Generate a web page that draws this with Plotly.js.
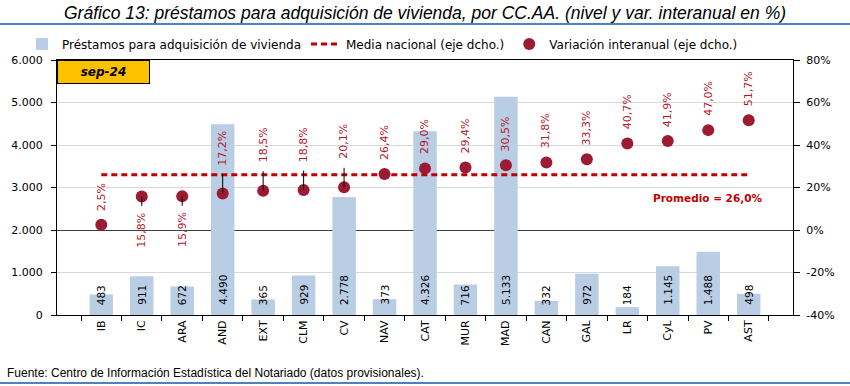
<!DOCTYPE html>
<html>
<head>
<meta charset="utf-8">
<script src="https://cdn.plot.ly/plotly-3.0.1.min.js"></script>
<style>
  html, body { margin: 0; padding: 0; background: #fff; }
  #chart { width: 850px; height: 386px; }
</style>
</head>
<body>
<div id="chart"></div>
<script>
// ---- data ----
const categories = ["IB","IC","ARA","AND","EXT","CLM","CV","NAV","CAT","MUR","MAD","CAN","GAL","LR","CyL","PV","AST"];
const prestamos = [483, 911, 672, 4490, 365, 929, 2778, 373, 4326, 716, 5133, 332, 972, 184, 1145, 1488, 498];
const variacion = [2.5, 15.8, 15.9, 17.2, 18.5, 18.8, 20.1, 26.4, 29.0, 29.4, 30.5, 31.8, 33.3, 40.7, 41.9, 47.0, 51.7];
const mediaNacional = 26.0;
const periodo = "sep-24";
const y2TickValues = [-40, -20, 0, 20, 40, 60, 80];
const y2TickLabels = ["-40%", "-20%", "0%", "20%", "40%", "60%", "80%"];

// ---- label placement (style, not data)
const labelMode = ["up","downLead","downLead","upLead","upLead","upLead","upLead","up","up","up","up","up","up","up","up","up","up"];
const labelShift = {up: 12, upLead: 26, downLead: -14};
const leadLen = {upLead: -21, downLead: 11};

const fmtPct = v => v.toFixed(1).replace('.', ',') + '%';
const fmtNum = v => v.toString().replace(/\B(?=(\d{3})+(?!\d))/g, '.');

const FONT = "DejaVu Sans, Verdana, sans-serif";
const RED_TXT = "#B5192C";
const DOT = "#9C1B32";

const traces = [
  {
    type: 'bar', name: 'Préstamos para adquisición de vivienda',
    x: categories, y: prestamos, yaxis: 'y',
    marker: {color: '#B9CDE5'}
  },
  {
    type: 'scatter', mode: 'lines', name: 'Media nacional (eje dcho.)',
    x: categories, y: categories.map(() => mediaNacional), yaxis: 'y2',
    line: {color: '#C00000', width: 3, dash: '6px,4px'}
  },
  {
    type: 'scatter', mode: 'markers', name: 'Variación interanual (eje dcho.)',
    x: categories, y: variacion, yaxis: 'y2',
    marker: {color: DOT, size: 12}
  }
];

const annotations = [];
// bar value labels
categories.forEach((c, i) => {
  annotations.push({
    x: c, y: 0, xref: 'x', yref: 'y', text: fmtNum(prestamos[i]),
    textangle: -90, showarrow: false, yanchor: 'bottom', yshift: 8,
    font: {family: FONT, size: 10.5, color: '#000'}
  });
});
// percentage labels (+ leader lines)
categories.forEach((c, i) => {
  const m = labelMode[i];
  annotations.push({
    x: c, y: variacion[i], xref: 'x', yref: 'y2', text: fmtPct(variacion[i]),
    textangle: -90, showarrow: false,
    yanchor: (m === 'downLead') ? 'top' : 'bottom', yshift: labelShift[m],
    font: {family: FONT, size: 11, color: RED_TXT}
  });
  if (m !== 'up') {
    annotations.push({
      x: c, y: variacion[i], xref: 'x', yref: 'y2', text: '',
      showarrow: true, arrowhead: 0, arrowwidth: 1, arrowcolor: '#000',
      standoff: 0, ax: 0, ay: leadLen[m]
    });
  }
});
// promedio label
annotations.push({
  x: 14.97, y: 15, xref: 'x', yref: 'y2', showarrow: false,
  text: '<b>Promedio = ' + fmtPct(mediaNacional) + '</b>',
  font: {family: FONT, size: 10.5, color: '#C00000'}
});
// period box
annotations.push({
  x: 0, y: 1, xref: 'paper', yref: 'paper', xanchor: 'left', yanchor: 'top',
  showarrow: false, text: '<b><i>' + periodo + '</i></b>',
  bgcolor: '#FFC000', bordercolor: '#000', borderwidth: 1, borderpad: 0,
  width: 91, height: 22, font: {family: FONT, size: 12, color: '#000'}
});
// source
annotations.push({
  x: (5 - 57) / 736, y: (315 - 373) / 255, xref: 'paper', yref: 'paper',
  xanchor: 'left', yanchor: 'middle', showarrow: false,
  text: 'Fuente: Centro de Información Estadística del Notariado (datos provisionales).',
  font: {family: 'Liberation Sans, Arial, sans-serif', size: 12, color: '#000'}
});

const layout = {
  width: 850, height: 386,
  margin: {l: 57, r: 57, t: 60, b: 71, pad: 0},
  paper_bgcolor: '#fff', plot_bgcolor: '#fff',
  separators: ',.',
  showlegend: true,
  title: {
    text: '<i>Gráfico 13: préstamos para adquisición de vivienda, por CC.AA. (nivel y var. interanual en %)</i>',
    font: {family: 'Liberation Sans, Arial, sans-serif', size: 17.5, color: '#000'},
    x: 0.5, xanchor: 'center', y: 1 - 13 / 386, yanchor: 'middle', yref: 'container'
  },
  legend: {
    orientation: 'h', x: (22 - 57) / 736, xanchor: 'left', y: (315 - 44) / 255, yanchor: 'middle',
    font: {family: FONT, size: 12, color: '#000'}, bgcolor: 'rgba(0,0,0,0)',
    traceorder: 'normal', itemwidth: 30
  },
  bargap: 0.42,
  xaxis: {
    type: 'category', showline: true, linecolor: '#000', linewidth: 1, mirror: true,
    ticks: 'outside', tickson: 'boundaries', ticklen: 5, tickcolor: '#000',
    tickangle: -90, tickfont: {family: FONT, size: 11, color: '#000'},
    showgrid: false, zeroline: false
  },
  yaxis: {
    range: [0, 6000], dtick: 1000, tickformat: ',d',
    showline: true, linecolor: '#000', linewidth: 1,
    ticks: 'outside', ticklen: 5, tickcolor: '#000', ticklabelstandoff: 6,
    gridcolor: '#D9D9D9', gridwidth: 1, zeroline: false,
    tickfont: {family: FONT, size: 11, color: '#000'}
  },
  yaxis2: {
    range: [-40, 80], tickmode: 'array', tickvals: y2TickValues, ticktext: y2TickLabels,
    overlaying: 'y', side: 'right',
    showline: true, linecolor: '#000', linewidth: 1,
    ticks: 'outside', ticklen: 6, tickcolor: '#000', ticklabelstandoff: 4,
    showgrid: false, zeroline: true, zerolinecolor: '#404040', zerolinewidth: 1,
    tickfont: {family: FONT, size: 11, color: '#000'}
  },
  shapes: [
    {type: 'line', xref: 'paper', yref: 'paper', x0: -57 / 736, x1: 1 + 57 / 736,
     y0: (315 - 24) / 255, y1: (315 - 24) / 255, line: {color: '#4F81BD', width: 2}},
    {type: 'line', xref: 'paper', yref: 'paper', x0: -57 / 736, x1: 1 + 57 / 736,
     y0: (315 - 383) / 255, y1: (315 - 383) / 255, line: {color: '#4F81BD', width: 2}}
  ],
  annotations: annotations
};

Plotly.newPlot('chart', traces, layout, {displayModeBar: false, staticPlot: true});
</script>
</body>
</html>
